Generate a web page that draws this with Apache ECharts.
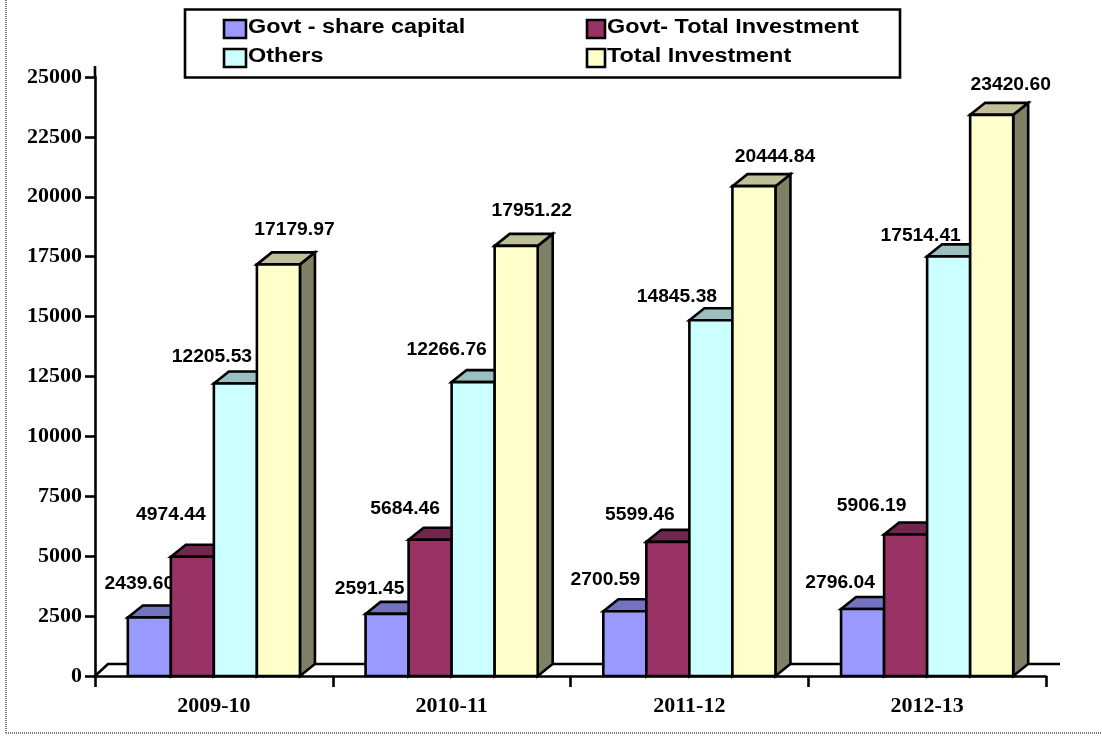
<!DOCTYPE html>
<html>
<head>
<meta charset="utf-8">
<style>html,body{margin:0;padding:0;background:#fff}#c{width:1102px;height:737px}</style>
<script src="https://cdn.jsdelivr.net/npm/echarts@6/dist/echarts.min.js"></script>
</head>
<body>
<div id="c"></div>
<script>
const categories = ['2009-10', '2010-11', '2011-12', '2012-13'];
const seriesNames = ['Govt - share capital', 'Govt- Total Investment', 'Others', 'Total Investment'];
const govtShare = [2439.60, 2591.45, 2700.59, 2796.04];
const govtTotal = [4974.44, 5684.46, 5599.46, 5906.19];
const others = [12205.53, 12266.76, 14845.38, 17514.41];
const totalInvestment = [17179.97, 17951.22, 20444.84, 23420.60];
const seriesValues = [govtShare, govtTotal, others, totalInvestment];

const frontColors = ['#9999FF', '#993366', '#CCFFFF', '#FFFFCC'];
const topColors = ['#7373BF', '#73264D', '#99BFBF', '#BFBF99'];
const sideColors = ['#4D4D80', '#4D1A33', '#668080', '#808066'];

// Hand-placed label shifts from each bar's front top-centre, as in the reference
const labelShiftX = [[-10, -17.5, -19.5, -22.5], [-21.5, -25, -28, -34], [-23.5, -26.5, -34, -28], [16, 15.5, 21, 19]];
const labelShiftY = [[-34.5, -26, -32, -27], [-43, -32, -28, -29.5], [-27.6, -33, -24, -21.4], [-35.4, -36, -30, -30.8]];

const DEPTH_X = 15, DEPTH_Y = 12;
const BAR_SHARE = 0.181;
const LINE_W = 2.6;
const lineStyle = {stroke: '#000', lineWidth: LINE_W, lineJoin: 'miter'};

function barRenderer(s) {
  return function (params, api) {
    const c = api.value(0), v = api.value(1);
    const top = api.coord([c, v]), base = api.coord([c, 0]);
    const catW = api.size([1, 0])[0];
    const w = catW * BAR_SHARE;
    const x0 = top[0] + (s - 2) * w, x1 = x0 + w;
    const y0 = top[1], y1 = base[1];
    const poly = (pts, fill) => ({type: 'polygon', shape: {points: pts}, style: Object.assign({fill}, lineStyle)});
    return {
      type: 'group',
      children: [
        {type: 'text', x: x0 + w / 2 + labelShiftX[s][c], y: y0 + labelShiftY[s][c] + 1, scaleX: 1.07,
          style: {text: v.toFixed(2), x: 0, y: 0, align: 'center', verticalAlign: 'middle',
            font: 'bold 18px "Liberation Sans", Arial, sans-serif', fill: '#000'}},
        poly([[x1, y0], [x1 + DEPTH_X, y0 - DEPTH_Y], [x1 + DEPTH_X, y1 - DEPTH_Y], [x1, y1]], sideColors[s]),
        poly([[x0, y0], [x0 + DEPTH_X, y0 - DEPTH_Y], [x1 + DEPTH_X, y0 - DEPTH_Y], [x1, y0]], topColors[s]),
        poly([[x0, y0], [x1, y0], [x1, y1], [x0, y1]], frontColors[s])
      ]
    };
  };
}

function floorRenderer(params) {
  const g = params.coordSys;
  const bottom = g.y + g.height;
  return {
    type: 'group',
    children: [
      {type: 'polyline', shape: {points: [[g.x, bottom], [g.x + 13, bottom - DEPTH_Y], [g.x + g.width + 14, bottom - DEPTH_Y]]},
        style: {stroke: '#000', lineWidth: LINE_W, fill: null}},
      {type: 'line', shape: {x1: g.x, y1: g.y, x2: g.x, y2: g.y - 11},
        style: {stroke: '#000', lineWidth: LINE_W}}
    ]
  };
}

const series = [{
  type: 'custom', name: 'floor', renderItem: floorRenderer, data: [[0, 0]], z: 1, silent: true, clip: false,
  encode: {x: 0, y: 1}
}].concat(seriesNames.map((name, s) => ({
  type: 'custom',
  name,
  renderItem: barRenderer(s),
  itemStyle: {color: frontColors[s]},
  encode: {x: 0, y: 1},
  clip: false,
  z: 2,
  data: seriesValues[s].map((v, i) => [i, v])
})));

// Legend drawn as real text so its wide letter-fit can be reproduced
const legendCols = [{x: 224, w: 22, text: 248}, {x: 587, w: 18, text: 607}];
const legendRows = [{y: 20, text: 27}, {y: 49, text: 56}];
const legendItems = seriesNames.flatMap((name, i) => {
  const col = legendCols[i % 2], row = legendRows[Math.floor(i / 2)];
  return [
    {type: 'rect', shape: {x: col.x, y: row.y, width: col.w, height: 18},
      style: {fill: frontColors[i], stroke: '#000', lineWidth: LINE_W}, z: 3},
    {type: 'text', x: col.text, y: row.text, scaleX: 1.17, z: 3,
      style: {text: name, x: 0, y: 0, align: 'left', verticalAlign: 'middle',
        font: 'bold 20px "Liberation Sans", Arial, sans-serif', fill: '#000'}}
  ];
});

const chart = echarts.init(document.getElementById('c'), null, {renderer: 'canvas', width: 1102, height: 737});
chart.setOption({
  animation: false,
  backgroundColor: '#fff',
  grid: {left: 95, right: 56, top: 77, bottom: 61, containLabel: false},
  xAxis: {
    type: 'category', data: categories, boundaryGap: true,
    axisLine: {show: true, lineStyle: {color: '#000', width: LINE_W}},
    axisTick: {show: true, length: 11, inside: false, lineStyle: {color: '#000', width: LINE_W}},
    axisLabel: {color: '#000', fontFamily: '"Liberation Serif", "Times New Roman", serif', fontWeight: 'bold', fontSize: 22, margin: 19}
  },
  yAxis: {
    type: 'value', min: 0, max: 25000, interval: 2500,
    splitLine: {show: false},
    axisLine: {show: true, lineStyle: {color: '#000', width: LINE_W}},
    axisTick: {show: true, length: 10, lineStyle: {color: '#000', width: LINE_W}},
    axisLabel: {color: '#000', fontFamily: '"Liberation Serif", "Times New Roman", serif', fontWeight: 'bold', fontSize: 22, margin: 13,
      formatter: v => String(v)}
  },
  graphic: [
    {type: 'rect', shape: {x: 185, y: 9.5, width: 715, height: 68}, style: {fill: '#fff', stroke: '#000', lineWidth: LINE_W}, z: 0},
    {type: 'line', shape: {x1: 6, y1: 0, x2: 6, y2: 733}, style: {stroke: '#777', lineWidth: 2, lineDash: [1, 1]}, z: 0},
    {type: 'line', shape: {x1: 6, y1: 733, x2: 1102, y2: 733}, style: {stroke: '#777', lineWidth: 2, lineDash: [1, 1]}, z: 0}
  ].concat(legendItems),
  series
});
</script>
</body>
</html>
